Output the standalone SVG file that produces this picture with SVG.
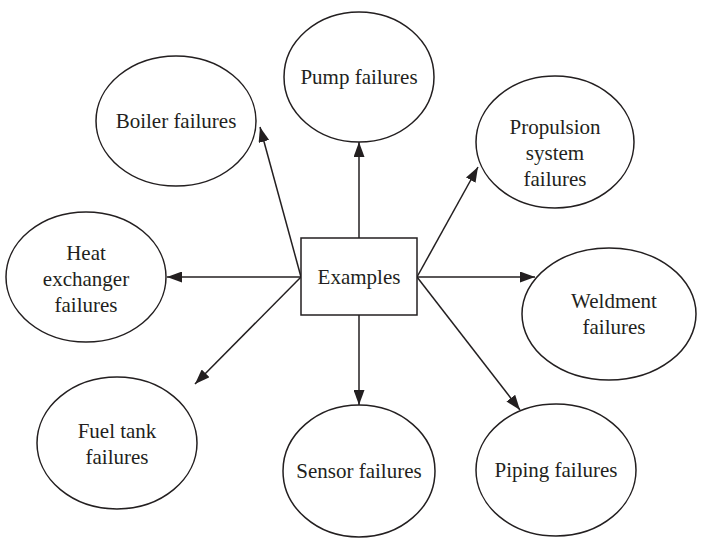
<svg xmlns="http://www.w3.org/2000/svg" width="704" height="546" viewBox="0 0 704 546">
  <defs>
    <marker id="arrow" viewBox="0 0 15 11" refX="15" refY="5.5" markerWidth="15" markerHeight="11" markerUnits="userSpaceOnUse" orient="auto">
      <path d="M0,0 L15,5.5 L0,11 Z" fill="#231f20"/>
    </marker>
    <style>
      .node ellipse, .node rect { fill: #ffffff; stroke: #231f20; stroke-width: 1.5; }
      .node text { font-family: "Liberation Serif", "Times New Roman", serif; font-size: 21px; fill: #231f20; text-anchor: middle; }
      .edges line { stroke: #231f20; stroke-width: 1.5; marker-end: url(#arrow); }
    </style>
  </defs>
  <rect width="704" height="546" fill="#ffffff"/>

  <!-- arrows radiating from the central box -->
  <g class="edges">
    <line x1="359" y1="238" x2="359" y2="142"/>
    <line x1="301" y1="277" x2="260" y2="127"/>
    <line x1="301" y1="277" x2="167" y2="277"/>
    <line x1="301" y1="277" x2="195" y2="384"/>
    <line x1="359" y1="315" x2="359" y2="405"/>
    <line x1="417" y1="277" x2="478" y2="167"/>
    <line x1="417" y1="277" x2="535" y2="277"/>
    <line x1="417" y1="277" x2="520" y2="410"/>
  </g>

  <g id="examples" class="node">
    <rect x="301" y="238" width="116" height="77"/>
    <text x="359" y="284">Examples</text>
  </g>

  <g id="pump" class="node">
    <ellipse cx="359" cy="77" rx="75" ry="65"/>
    <text x="359" y="84">Pump failures</text>
  </g>

  <g id="boiler" class="node">
    <ellipse cx="176" cy="121" rx="80" ry="65"/>
    <text x="176" y="128">Boiler failures</text>
  </g>

  <g id="propulsion" class="node">
    <ellipse cx="555" cy="142" rx="79" ry="66"/>
    <text x="555" y="134">Propulsion</text>
    <text x="555" y="160">system</text>
    <text x="555" y="186">failures</text>
  </g>

  <g id="heat-exchanger" class="node">
    <ellipse cx="86" cy="277" rx="80" ry="65"/>
    <text x="86" y="260">Heat</text>
    <text x="86" y="286">exchanger</text>
    <text x="86" y="312">failures</text>
  </g>

  <g id="weldment" class="node">
    <ellipse cx="609" cy="314" rx="87" ry="66"/>
    <text x="614" y="308">Weldment</text>
    <text x="614" y="334">failures</text>
  </g>

  <g id="fuel-tank" class="node">
    <ellipse cx="117" cy="443" rx="80" ry="66"/>
    <text x="117" y="438">Fuel tank</text>
    <text x="117" y="464">failures</text>
  </g>

  <g id="sensor" class="node">
    <ellipse cx="359" cy="471" rx="76" ry="66"/>
    <text x="359" y="478">Sensor failures</text>
  </g>

  <g id="piping" class="node">
    <ellipse cx="556" cy="470" rx="80" ry="66"/>
    <text x="556" y="477">Piping failures</text>
  </g>
</svg>
